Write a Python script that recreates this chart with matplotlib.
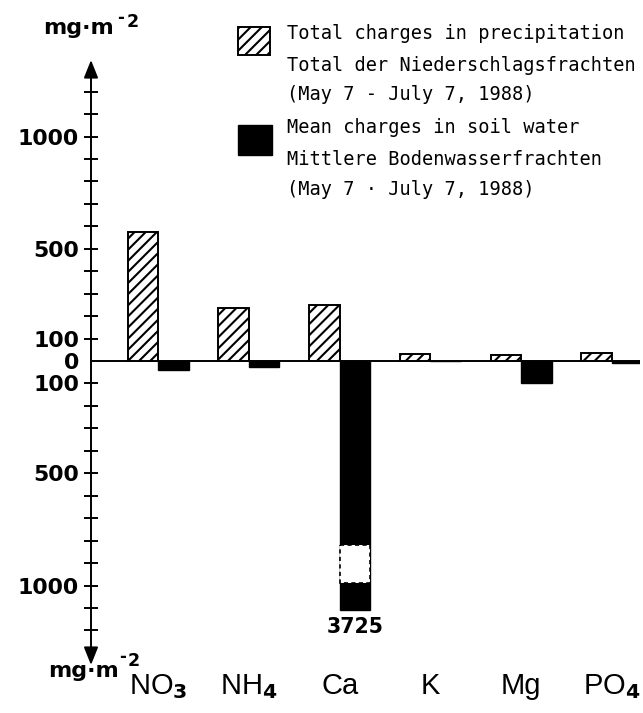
import matplotlib
matplotlib.use('Agg')
import matplotlib.pyplot as plt
from matplotlib.patches import Rectangle
from matplotlib.transforms import blended_transform_factory

# ---------------- data ----------------
categories = [r'NO$_{\mathbf{3}}$', r'NH$_{\mathbf{4}}$', 'Ca', 'K', 'Mg', r'PO$_{\mathbf{4}}$']
precip = [575, 235, 250, 30, 28, 35]          # total charges in precipitation (up)
soil = [40, 28, 3725, 0, 100, 10]             # mean charges in soil water (down)
clip_depth = 1110                             # depth at which off-scale bars are cut
break_top = 820                               # start of the axis break drawn in the bar
break_bottom = 990                            # end of the axis break
ytick_values = [1000, 500, 100, 0, -100, -500, -1000]
ytick_labels = ['1000', '500', '100', '0', '100', '500', '1000']
legend_precip = ['Total charges in precipitation',
                 'Total der Niederschlagsfrachten',
                 '(May 7 - July 7, 1988)']
legend_soil = ['Mean charges in soil water',
               'Mittlere Bodenwasserfrachten',
               '(May 7 · July 7, 1988)']
unit_base = 'mg·m'
unit_exp_sign = '-'
unit_exp = '2'

# ---------------- style ----------------
plt.rcParams['mathtext.default'] = 'regular'
plt.rcParams['hatch.linewidth'] = 1.5
W, H = 643, 713
fig = plt.figure(figsize=(W / 100, H / 100), dpi=100)


def fx(px):
    return px / W


def fy(py):
    return 1 - py / H


ax = fig.add_axes([fx(91), fy(665), fx(640) - fx(91), fy(60) - fy(665)])
ax.set_xlim(-0.74, 5.31)
ax.set_ylim(-1354, 1341)
for s in ax.spines.values():
    s.set_visible(False)

w = 0.335
x = list(range(len(categories)))
drawn_soil = [-min(v, clip_depth) for v in soil]

ax.axhline(0, color='black', lw=1.4, zorder=1)
ax.bar(x, precip, width=-w, align='edge', color='white', edgecolor='black',
       hatch='///', lw=1.4, zorder=2)
ax.bar(x, drawn_soil, width=w, align='edge', color='black', edgecolor='black',
       lw=1.0, zorder=2)
# axis break inside off-scale bars
for i, v in enumerate(soil):
    if v > clip_depth:
        ax.bar(i, -(break_bottom - break_top), bottom=-break_top, width=w,
               align='edge', color='white', edgecolor='black', lw=1.2,
               linestyle=(0, (2.5, 2)), zorder=3)
        ax.annotate(str(v), xy=(i + w / 2, -clip_depth), xytext=(0, -5),
                    textcoords='offset points', ha='center', va='top',
                    fontsize=14.8, fontweight='bold', family='DejaVu Sans')

# y axis with arrows at both ends
ax.annotate('', xy=(0, 1), xytext=(0, 0), xycoords='axes fraction',
            textcoords='axes fraction', annotation_clip=False,
            arrowprops=dict(arrowstyle='<|-|>,head_length=0.5,head_width=0.2',
                            lw=1.4, color='black', shrinkA=0, shrinkB=0,
                            mutation_scale=21.6))

ticks = list(range(-1200, 1300, 100))
labels = [ytick_labels[ytick_values.index(t)] if t in ytick_values else '' for t in ticks]
ax.set_yticks(ticks)
ax.set_yticklabels(labels, fontsize=15.8, fontweight='bold', family='DejaVu Sans')
ax.tick_params(axis='y', direction='inout', length=10, width=1.4, pad=3.6)
for t, tk in zip(ticks, ax.yaxis.get_major_ticks()):
    if t == 0:
        tk.tick1line.set_visible(False)
ax.set_xticks([])

# category labels
trans = blended_transform_factory(ax.transData, fig.transFigure)
for i, c in enumerate(categories):
    ax.text(i, fy(694), c, transform=trans, ha='center', va='baseline',
            fontsize=21, family='Liberation Sans')

# unit labels (mg·m^-2), top and bottom of the axis
for (bx, by, sx, sy, ex, ey) in [(43, 34, 117, 23, 127, 27),
                                 (48, 677, 119, 662, 128, 666)]:
    fig.text(fx(bx), fy(by), unit_base, ha='left', va='baseline', fontsize=16,
             fontweight='bold', family='DejaVu Sans')
    fig.text(fx(sx), fy(sy), unit_exp_sign, ha='left', va='baseline', fontsize=12,
             fontweight='bold', family='DejaVu Sans')
    fig.text(fx(ex), fy(ey), unit_exp, ha='left', va='baseline', fontsize=12.5,
             fontweight='bold', family='DejaVu Sans')

# legend
fig.add_artist(Rectangle((fx(238), fy(55)), fx(270) - fx(238), fy(27) - fy(55),
                         transform=fig.transFigure, facecolor='white',
                         edgecolor='black', hatch='///', lw=1.4))
fig.add_artist(Rectangle((fx(238), fy(155)), fx(272) - fx(238), fy(125) - fy(155),
                         transform=fig.transFigure, facecolor='black',
                         edgecolor='black', lw=1.0))
baselines = [39, 70.7, 100, 133, 165, 195]
for line, b in zip(legend_precip + legend_soil, baselines):
    fig.text(fx(287), fy(b), line, ha='left', va='baseline', fontsize=13.4,
             family='DejaVu Sans Mono')

fig.savefig('out.png', dpi=100)
